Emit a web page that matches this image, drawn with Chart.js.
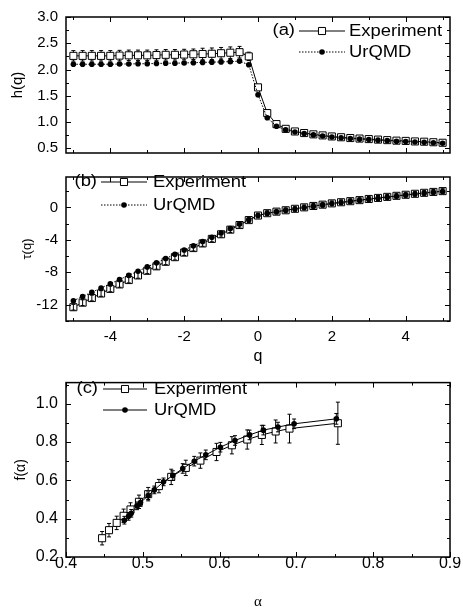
<!DOCTYPE html>
<html>
<head>
  <meta charset="utf-8">
  <title>h(q), tau(q) and f(alpha)</title>
  <script src="https://cdn.jsdelivr.net/npm/chart.js@4"></script>
  <style>
    body { margin: 0; background: #fff; width: 463px; height: 607px; position: relative; overflow: hidden; }
    canvas { position: absolute; left: 0; }
  </style>
</head>
<body>
  <canvas id="chartA" width="463" height="170" style="top:0"></canvas>
  <canvas id="chartB" width="463" height="208" style="top:160px"></canvas>
  <canvas id="chartC" width="463" height="246" style="top:365px"></canvas>

  <script>
    // q grid shared by panels (a) and (b)
    const qValues = [-5, -4.75, -4.5, -4.25, -4, -3.75, -3.5, -3.25, -3, -2.75, -2.5, -2.25, -2, -1.75, -1.5, -1.25, -1, -0.75, -0.5, -0.25,
      0, 0.25, 0.5, 0.75, 1, 1.25, 1.5, 1.75, 2, 2.25, 2.5, 2.75, 3, 3.25, 3.5, 3.75, 4, 4.25, 4.5, 4.75, 5];

    // (a) h(q)
    const hExp = [2.26, 2.26, 2.26, 2.26, 2.26, 2.265, 2.27, 2.27, 2.27, 2.275, 2.28, 2.28, 2.285, 2.29, 2.295, 2.30, 2.31, 2.32, 2.33, 2.25,
      1.66, 1.17, 0.96, 0.87, 0.82, 0.79, 0.765, 0.745, 0.725, 0.71, 0.695, 0.685, 0.675, 0.665, 0.655, 0.645, 0.64, 0.63, 0.625, 0.615, 0.605];
    const hExpErr = [0.10, 0.10, 0.10, 0.10, 0.10, 0.10, 0.10, 0.10, 0.10, 0.10, 0.10, 0.10, 0.10, 0.10, 0.11, 0.11, 0.11, 0.11, 0.11, 0.08,
      0.05, 0.04, 0.03, 0.03, 0.03, 0.03, 0.03, 0.03, 0.03, 0.03, 0.03, 0.03, 0.03, 0.03, 0.03, 0.03, 0.03, 0.03, 0.03, 0.03, 0.03];
    const hUrqmd = [2.10, 2.10, 2.10, 2.10, 2.10, 2.105, 2.105, 2.11, 2.11, 2.115, 2.12, 2.12, 2.125, 2.13, 2.135, 2.14, 2.145, 2.15, 2.16, 2.09,
      1.52, 1.08, 0.92, 0.85, 0.81, 0.78, 0.755, 0.735, 0.715, 0.70, 0.685, 0.675, 0.665, 0.655, 0.645, 0.635, 0.63, 0.62, 0.615, 0.605, 0.595];
    const hUrqmdErr = [0.02, 0.02, 0.02, 0.02, 0.02, 0.02, 0.02, 0.02, 0.02, 0.02, 0.02, 0.02, 0.02, 0.02, 0.02, 0.02, 0.02, 0.02, 0.02, 0.02,
      0.02, 0.02, 0.02, 0.02, 0.02, 0.02, 0.02, 0.02, 0.02, 0.02, 0.02, 0.02, 0.02, 0.02, 0.02, 0.02, 0.02, 0.02, 0.02, 0.02, 0.02];

    // (b) tau(q)
    const tauExp = [-12.30, -11.74, -11.17, -10.61, -10.04, -9.49, -8.95, -8.38, -7.81, -7.26, -6.70, -6.13, -5.57, -5.01, -4.44, -3.88, -3.31, -2.74, -2.17, -1.56,
      -1.00, -0.71, -0.52, -0.35, -0.17, 0.01, 0.18, 0.34, 0.50, 0.64, 0.77, 0.90, 1.04, 1.17, 1.30, 1.43, 1.56, 1.68, 1.80, 1.91, 2.01];
    const tauExpErr = [0.35, 0.35, 0.35, 0.35, 0.35, 0.35, 0.35, 0.35, 0.35, 0.35, 0.35, 0.35, 0.35, 0.35, 0.35, 0.35, 0.35, 0.35, 0.35, 0.3,
      0.3, 0.3, 0.3, 0.3, 0.3, 0.3, 0.3, 0.3, 0.3, 0.3, 0.3, 0.3, 0.3, 0.3, 0.3, 0.3, 0.3, 0.3, 0.3, 0.3, 0.3];
    const tauUrqmd = [-11.50, -10.98, -10.45, -9.93, -9.40, -8.89, -8.37, -7.86, -7.33, -6.82, -6.30, -5.77, -5.25, -4.73, -4.20, -3.68, -3.15, -2.61, -2.08, -1.52,
      -1.00, -0.73, -0.54, -0.36, -0.19, -0.02, 0.15, 0.31, 0.47, 0.61, 0.74, 0.87, 1.00, 1.13, 1.26, 1.38, 1.52, 1.64, 1.76, 1.87, 1.97];
    const tauUrqmdErr = [0.15, 0.15, 0.15, 0.15, 0.15, 0.15, 0.15, 0.15, 0.15, 0.15, 0.15, 0.15, 0.15, 0.15, 0.15, 0.15, 0.15, 0.15, 0.15, 0.15,
      0.15, 0.15, 0.15, 0.15, 0.15, 0.15, 0.15, 0.15, 0.15, 0.15, 0.15, 0.15, 0.15, 0.15, 0.15, 0.15, 0.15, 0.15, 0.15, 0.15, 0.15];

    // (c) f(alpha)
    const alphaExp = [0.447, 0.456, 0.466, 0.475, 0.484, 0.495, 0.507, 0.521, 0.537, 0.556, 0.575, 0.596, 0.616, 0.636, 0.655, 0.673, 0.691, 0.754];
    const fExp = [0.298, 0.340, 0.378, 0.415, 0.448, 0.488, 0.528, 0.570, 0.618, 0.665, 0.703, 0.748, 0.783, 0.813, 0.837, 0.855, 0.870, 0.898];
    const fExpErr = [0.035, 0.035, 0.035, 0.035, 0.035, 0.035, 0.035, 0.035, 0.04, 0.04, 0.04, 0.045, 0.045, 0.05, 0.05, 0.06, 0.075, 0.11];
    const alphaUrqmd = [0.476, 0.4815, 0.485, 0.4925, 0.497, 0.507, 0.515, 0.527, 0.539, 0.552, 0.567, 0.582, 0.601, 0.620, 0.639, 0.657, 0.676, 0.697, 0.752];
    const fUrqmd = [0.392, 0.412, 0.428, 0.467, 0.484, 0.520, 0.550, 0.592, 0.625, 0.662, 0.700, 0.733, 0.773, 0.808, 0.837, 0.862, 0.878, 0.895, 0.921];
    const fUrqmdErr = [0.02, 0.02, 0.02, 0.02, 0.02, 0.02, 0.02, 0.02, 0.025, 0.025, 0.025, 0.025, 0.025, 0.025, 0.025, 0.025, 0.025, 0.025, 0.028];

    // tick labels
    const qTicks = [-4, -2, 0, 2, 4];
    const hTicks = [0.5, 1.0, 1.5, 2.0, 2.5, 3.0];
    const tauTicks = [-12, -8, -4, 0];
    const alphaTicks = [0.4, 0.5, 0.6, 0.7, 0.8, 0.9];
    const fTicks = [0.2, 0.4, 0.6, 0.8, 1.0];

    const SANS = "'Liberation Sans', Arial, sans-serif";
    const SERIF = "'Liberation Serif', 'Times New Roman', serif";

    const pts = (xs, ys) => xs.map((x, i) => ({ x: x, y: ys[i] }));

    function expSet(data, errors) {
      return {
        label: 'Experiment', data: data, errors: errors, showLine: true, order: 1,
        borderColor: '#000', borderWidth: 1,
        pointStyle: 'rect', pointRadius: 5, pointBorderWidth: 1,
        pointBackgroundColor: '#fff', pointBorderColor: '#000'
      };
    }
    function urqmdSet(data, errors, dotted) {
      return {
        label: 'UrQMD', data: data, errors: errors, showLine: true, order: 0,
        borderColor: '#000', borderWidth: 1, borderDash: dotted ? [1.5, 1.5] : [],
        pointStyle: 'circle', pointRadius: 2.8, pointBorderWidth: 0,
        pointBackgroundColor: '#000', pointBorderColor: '#000'
      };
    }

    // error bars drawn through the dataset's own y scale
    function drawBars(chart, index) {
      const ds = chart.data.datasets[index];
      if (!ds.errors) return;
      const meta = chart.getDatasetMeta(index);
      const ys = chart.scales[meta.yAxisID];
      const ctx = chart.ctx;
      ctx.save();
      ctx.strokeStyle = '#000';
      ctx.lineWidth = 1;
      meta.data.forEach((p, i) => {
        const v = ds.data[i].y, e = ds.errors[i];
        const y1 = ys.getPixelForValue(v + e), y2 = ys.getPixelForValue(v - e);
        ctx.beginPath();
        ctx.moveTo(p.x, y1); ctx.lineTo(p.x, y2);
        ctx.moveTo(p.x - 2, y1); ctx.lineTo(p.x + 2, y1);
        ctx.moveTo(p.x - 2, y2); ctx.lineTo(p.x + 2, y2);
        ctx.stroke();
      });
      ctx.restore();
    }
    const errorBarPlugin = {
      id: 'errorBars',
      beforeDatasetDraw(chart, args, o) { if (!o.onTop) drawBars(chart, args.index); },
      afterDatasetDraw(chart, args, o) { if (o.onTop) drawBars(chart, args.index); }
    };

    // box frame with inward major/minor ticks on all four sides
    const framePlugin = {
      id: 'frame',
      afterDraw(chart, args, o) {
        const { ctx, chartArea: a } = chart;
        const xs = chart.scales.x, ys = chart.scales.y;
        const isMajor = (s, v) => s.ticks.some(t => Math.abs(t.value - v) < 1e-6);
        const line = (x1, y1, x2, y2) => { ctx.beginPath(); ctx.moveTo(x1, y1); ctx.lineTo(x2, y2); ctx.stroke(); };
        ctx.save();
        ctx.strokeStyle = '#000';
        ctx.lineWidth = 1;
        for (let k = Math.ceil(xs.min / o.xMinor - 1e-6); k * o.xMinor <= xs.max + 1e-6; k++) {
          const v = k * o.xMinor, len = isMajor(xs, v) ? 5 : 3;
          const px = Math.round(xs.getPixelForValue(v)) + 0.5;
          line(px, a.bottom, px, a.bottom - len);
          line(px, a.top, px, a.top + len);
        }
        for (let k = Math.ceil(ys.min / o.yMinor - 1e-6); k * o.yMinor <= ys.max + 1e-6; k++) {
          const v = k * o.yMinor, len = isMajor(ys, v) ? 5 : 3;
          const py = Math.round(ys.getPixelForValue(v)) + 0.5;
          line(a.left, py, a.left + len, py);
          line(a.right, py, a.right - len, py);
        }
        ctx.lineWidth = 1.5;
        ctx.strokeRect(a.left, a.top, a.right - a.left, a.bottom - a.top);
        ctx.restore();
      }
    };

    // "(a) --□-- Experiment" style key inside the plot
    const legendPlugin = {
      id: 'panelLegend',
      afterDraw(chart, args, o) {
        const ctx = chart.ctx;
        const stretched = (text, x, y, align) => {
          ctx.save();
          ctx.translate(x, y);
          ctx.scale(1.15, 1);
          ctx.textAlign = align;
          ctx.fillText(text, 0, 0);
          ctx.restore();
        };
        ctx.save();
        ctx.fillStyle = '#000';
        ctx.strokeStyle = '#000';
        ctx.font = '16px ' + SANS;
        ctx.textBaseline = 'middle';
        stretched(o.tag, o.tagRight, o.rows[0], 'right');
        chart.data.datasets.forEach((ds, i) => {
          const y = o.rows[i];
          ctx.lineWidth = 1;
          ctx.setLineDash(ds.borderDash || []);
          ctx.beginPath();
          ctx.moveTo(o.lineX[0], y); ctx.lineTo(o.lineX[1], y);
          ctx.stroke();
          ctx.setLineDash([]);
          const mx = (o.lineX[0] + o.lineX[1]) / 2;
          ctx.beginPath();
          if (ds.pointStyle === 'rect') {
            const s = Math.SQRT1_2 * ds.pointRadius;
            ctx.rect(mx - s, y - s, 2 * s, 2 * s);
          } else {
            ctx.arc(mx, y, ds.pointRadius, 0, Math.PI * 2);
          }
          ctx.fillStyle = ds.pointBackgroundColor;
          ctx.fill();
          if (ds.pointBorderWidth > 0) ctx.stroke();
          ctx.fillStyle = '#000';
          stretched(ds.label, o.textX, y + 1, 'left');
        });
        ctx.restore();
      }
    };

    function linearAxis(min, max, ticks, fmt, opt) {
      return {
        type: 'linear', min: min, max: max,
        afterBuildTicks: s => { s.ticks = ticks.map(v => ({ value: v })); },
        afterFit: s => { if (opt.width !== undefined) s.width = opt.width; if (opt.height !== undefined) s.height = opt.height; },
        grid: { display: false, drawTicks: false },
        border: { display: false },
        ticks: {
          display: opt.labels !== false, autoSkip: false, maxRotation: 0,
          padding: opt.padding, color: '#000',
          font: { family: SANS, size: opt.size },
          callback: v => fmt(v)
        },
        title: opt.title ? {
          display: true, text: opt.title, color: '#000',
          font: { family: opt.titleFamily || SANS, size: opt.titleSize },
          padding: opt.titlePadding
        } : { display: false }
      };
    }

    function panel(id, datasets, scales, padding, frame, legend, barsOnTop) {
      return new Chart(document.getElementById(id), {
        type: 'scatter',
        data: { datasets: datasets },
        options: {
          responsive: false,
          animation: false,
          events: [],
          layout: { padding: padding, autoPadding: false },
          elements: { line: { tension: 0 } },
          plugins: {
            legend: { display: false },
            tooltip: { enabled: false },
            frame: frame,
            panelLegend: legend,
            errorBars: { onTop: barsOnTop }
          },
          scales: scales
        },
        plugins: [errorBarPlugin, framePlugin, legendPlugin]
      });
    }

    const oneDec = v => v.toFixed(1);
    const whole = v => String(v);

    // (a)
    panel('chartA',
      [expSet(pts(qValues, hExp), hExpErr), urqmdSet(pts(qValues, hUrqmd), hUrqmdErr, true)],
      {
        x: linearAxis(-5.2, 5.2, qTicks, whole, { labels: false, height: 0 }),
        y: linearAxis(0.41, 3.0, hTicks, oneDec, { width: 66, padding: 8, size: 15, title: 'h(q)', titleSize: 15, titlePadding: { top: 9.3, bottom: 0 } })
      },
      { left: 0, right: 13, top: 16, bottom: 3 },
      { xMinor: 1, yMinor: 0.25 },
      { tag: '(a)', tagRight: 295, lineX: [299, 345], textX: 349, rows: [31, 52] },
      false);

    // (b)
    panel('chartB',
      [expSet(pts(qValues, tauExp), tauExpErr), urqmdSet(pts(qValues, tauUrqmd), tauUrqmdErr, true)],
      {
        x: linearAxis(-5.2, 5.2, qTicks, whole, { height: 47, padding: 6.7, size: 15, title: 'q', titleSize: 16, titlePadding: { top: 0, bottom: 1.7 } }),
        y: linearAxis(-14, 3.75, tauTicks, whole, { width: 66, padding: 8, size: 15, title: 'τ(q)', titleSize: 13, titlePadding: { top: 19.5, bottom: 0 } })
      },
      { left: 0, right: 13, top: 7, bottom: 0 },
      { xMinor: 1, yMinor: 2 },
      { tag: '(b)', tagRight: 97, lineX: [101, 147], textX: 153, rows: [22, 45] },
      true);

    // (c)
    panel('chartC',
      [expSet(pts(alphaExp, fExp), fExpErr), urqmdSet(pts(alphaUrqmd, fUrqmd), fUrqmdErr, false)],
      {
        x: linearAxis(0.4, 0.9, alphaTicks, oneDec, { height: 54, padding: -2.6, size: 16, title: 'α', titleSize: 15, titleFamily: SERIF, titlePadding: { top: 0, bottom: 0.3 } }),
        y: linearAxis(0.2, 1.11, fTicks, oneDec, { width: 66, padding: 8, size: 16, title: 'f(α)', titleSize: 14, titlePadding: { top: 12.5, bottom: 0 } })
      },
      { left: 0, right: 13, top: 10, bottom: 0 },
      { xMinor: 0.05, yMinor: 0.1 },
      { tag: '(c)', tagRight: 98, lineX: [103, 147], textX: 154, rows: [24, 45] },
      false);
  </script>
</body>
</html>
